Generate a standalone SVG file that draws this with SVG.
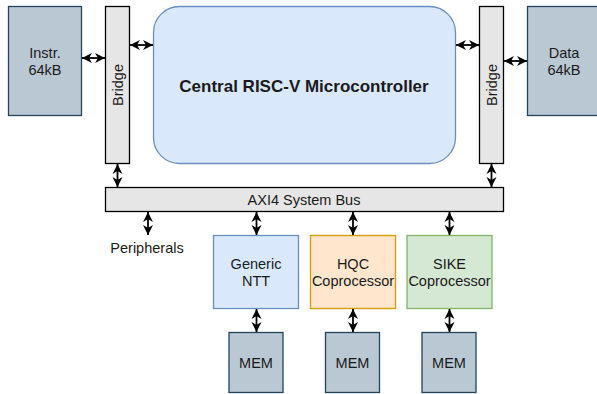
<svg xmlns="http://www.w3.org/2000/svg" width="597" height="394" viewBox="0 0 597 394">
<defs>
<marker id="ah" viewBox="0 0 10 10" refX="10" refY="5" markerWidth="10" markerHeight="11" markerUnits="userSpaceOnUse" orient="auto-start-reverse">
<path d="M0,0 L10,5 L0,10 L3,5 z" fill="#000"/>
</marker>
</defs>
<style>
text{font-family:"Liberation Sans",Arial,sans-serif;font-size:14.5px;fill:#1a1a1a;text-anchor:middle;dominant-baseline:central}
.mem{fill:#bac8d3;stroke:#23445d;stroke-width:1.3}
.br{fill:#e6e6e6;stroke:#000;stroke-width:1.3}
.blue{fill:#dae8fc;stroke:#6c8ebf;stroke-width:1.3}
.orange{fill:#ffe6cc;stroke:#d79b00;stroke-width:1.3}
.green{fill:#d5e8d4;stroke:#82b366;stroke-width:1.3}
.c line{stroke:#000;stroke-width:1.8;marker-start:url(#ah);marker-end:url(#ah)}
</style>
<rect width="597" height="394" fill="#fff"/>
<g id="instr"><rect class="mem" x="8.5" y="6.5" width="73" height="109"/><text x="45" y="53">Instr.</text><text x="45" y="70">64kB</text></g>
<g id="bridge-left"><rect class="br" x="105.5" y="6.5" width="24" height="157"/><text transform="translate(118,85) rotate(-90)">Bridge</text></g>
<g id="cpu"><rect class="blue" x="153.5" y="6.5" width="302" height="157" rx="26" ry="26"/><text x="304" y="86" style="font-weight:bold;font-size:17px">Central RISC-V Microcontroller</text></g>
<g id="bridge-right"><rect class="br" x="479.5" y="6.5" width="24" height="157"/><text transform="translate(492,85) rotate(-90)">Bridge</text></g>
<g id="data"><rect class="mem" x="527.5" y="6.5" width="73" height="109"/><text x="564" y="53">Data</text><text x="564" y="70">64kB</text></g>
<g id="bus"><rect class="br" x="105.5" y="187.5" width="398" height="24"/><text x="304" y="200">AXI4 System Bus</text></g>
<g id="peripherals"><text x="147" y="248">Peripherals</text></g>
<g id="ntt"><rect class="blue" x="213.5" y="235.5" width="85" height="73"/><text x="256" y="264">Generic</text><text x="256" y="281">NTT</text></g>
<g id="hqc"><rect class="orange" x="310.5" y="235.5" width="85" height="73"/><text x="353" y="264">HQC</text><text x="353" y="281">Coprocessor</text></g>
<g id="sike"><rect class="green" x="407" y="235.5" width="85" height="73"/><text x="449.5" y="264">SIKE</text><text x="449.5" y="281">Coprocessor</text></g>
<g id="mem1"><rect class="mem" x="229" y="332.5" width="54" height="60"/><text x="256" y="363">MEM</text></g>
<g id="mem2"><rect class="mem" x="325.5" y="332.5" width="54" height="60"/><text x="352.5" y="363">MEM</text></g>
<g id="mem3"><rect class="mem" x="422" y="332.5" width="54" height="60"/><text x="449" y="363">MEM</text></g>
<g id="connectors" class="c">
<line x1="82" y1="58" x2="105" y2="58"/>
<line x1="130" y1="45" x2="153" y2="45"/>
<line x1="456" y1="45" x2="479" y2="45"/>
<line x1="504" y1="61" x2="527" y2="61"/>
<line x1="117.5" y1="164" x2="117.5" y2="187"/>
<line x1="491.5" y1="164" x2="491.5" y2="187"/>
<line x1="148" y1="212" x2="148" y2="235"/>
<line x1="256.5" y1="212" x2="256.5" y2="235"/>
<line x1="353" y1="212" x2="353" y2="235"/>
<line x1="449.5" y1="212" x2="449.5" y2="235"/>
<line x1="256.5" y1="309" x2="256.5" y2="332"/>
<line x1="353" y1="309" x2="353" y2="332"/>
<line x1="449.5" y1="309" x2="449.5" y2="332"/>
</g>
</svg>
